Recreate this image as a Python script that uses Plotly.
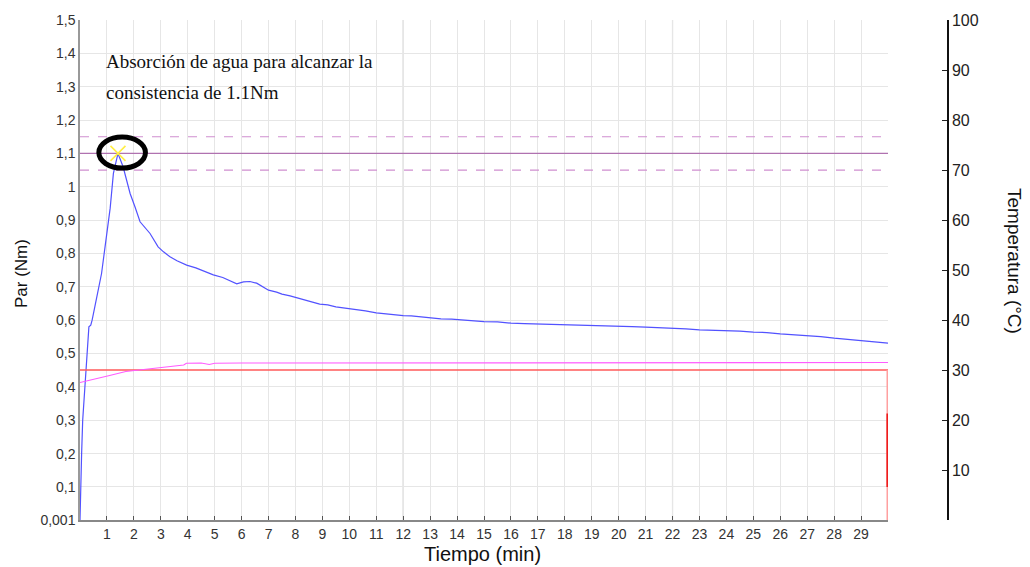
import plotly.graph_objects as go

# ---------------- data ----------------
t_par = [0, 0.02, 0.06, 0.10, 0.18, 0.22, 0.28, 0.33, 0.40, 0.45, 0.55, 0.80, 0.93, 1.12, 1.24, 1.41,
         1.60, 1.86, 2.04, 2.23, 2.60, 2.90, 3.10, 3.34, 3.60, 3.96, 4.30, 4.60, 4.95, 5.30, 5.60, 5.82,
         6.07, 6.31, 6.56, 6.80, 7.00, 7.30, 7.50, 7.80, 8.00, 8.30, 8.60, 8.90, 9.20, 9.50, 9.80, 10.0,
         10.3, 10.6, 11.0, 11.3, 11.6, 12.0, 12.3, 12.6, 13.0, 13.4, 13.8, 14.2, 14.6, 15.0, 15.5, 16.0,
         16.5, 17.0, 17.5, 18.0, 18.5, 19.0, 19.5, 20.0, 20.5, 21.0, 21.5, 22.0, 22.5, 23.0, 23.5, 24.0,
         24.5, 25.0, 25.5, 26.0, 26.5, 27.0, 27.5, 28.0, 28.3, 28.6, 29.0, 29.5, 30.0]
par_nm = [0.001, 0.10, 0.20, 0.30, 0.40, 0.46, 0.55, 0.58, 0.585, 0.60, 0.64, 0.74, 0.82, 0.936, 1.04, 1.10,
          1.06, 0.98, 0.94, 0.895, 0.86, 0.82, 0.805, 0.79, 0.778, 0.765, 0.757, 0.748, 0.736, 0.728, 0.718, 0.709,
          0.715, 0.716, 0.711, 0.70, 0.69, 0.684, 0.678, 0.673, 0.668, 0.661, 0.655, 0.648, 0.646, 0.640, 0.637, 0.634,
          0.630, 0.628, 0.622, 0.619, 0.617, 0.614, 0.613, 0.610, 0.608, 0.604, 0.603, 0.600, 0.599, 0.596, 0.595, 0.591,
          0.590, 0.589, 0.589, 0.587, 0.587, 0.585, 0.583, 0.582, 0.581, 0.579, 0.578, 0.575, 0.574, 0.571, 0.570, 0.567,
          0.567, 0.564, 0.563, 0.559, 0.557, 0.553, 0.551, 0.546, 0.545, 0.542, 0.539, 0.535, 0.531]

t_temp = [0, 0.5, 1.1, 1.7, 2.3, 3.0, 3.5, 3.85, 3.95, 4.5, 4.8, 5.0, 6.0, 7.0, 8.0, 9.0, 10.0, 11.0,
          12.0, 13.0, 14.0, 15.0, 16.0, 17.0, 18.0, 19.0, 20.0, 21.0, 22.0, 23.0, 24.0, 25.0, 26.0, 27.0,
          28.0, 29.0, 30.0]
temp_c = [27.5, 28.2, 28.9, 29.7, 30.1, 30.5, 30.8, 31.0, 31.35, 31.4, 31.1, 31.35, 31.4, 31.4, 31.45, 31.5, 31.55, 31.5,
          31.55, 31.55, 31.5, 31.55, 31.5, 31.55, 31.5, 31.55, 31.5, 31.55, 31.5, 31.55, 31.5, 31.55, 31.5, 31.5,
          31.45, 31.5, 31.5]

t_set = [0, 30]
temp_set = [30, 30]
t_set_drop = [30, 30]
temp_set_drop = [30, 0]
temp_set_dark = [21.3, 6.6]

target_par = [1.10]
tolerance_par = [1.05, 1.15]
peak_t = [1.41]
peak_par = [1.10]
highlight_t = [0.70, 2.43]
highlight_par = [1.056, 1.149]
major_grid_t = [12, 22]

x_ticks = list(range(1, 31))
x_ticktext = [str(v) for v in range(1, 30)] + [""]
y_ticks = [0.001] + [round(0.1 * i, 1) for i in range(1, 16)]
y_ticktext = ["0,001", "0,1", "0,2", "0,3", "0,4", "0,5", "0,6", "0,7", "0,8", "0,9", "1",
              "1,1", "1,2", "1,3", "1,4", "1,5"]
y2_ticks = list(range(10, 101, 10))

# ---------------- figure ----------------
fig = go.Figure()

for v in tolerance_par:
    fig.add_trace(go.Scatter(x=[0, 30], y=[v, v], mode="lines",
                             line=dict(color="#d08fd0", width=1.2, dash="dash"), hoverinfo="skip"))
for v in target_par:
    fig.add_trace(go.Scatter(x=[0, 30], y=[v, v], mode="lines",
                             line=dict(color="#b072b0", width=1.3), hoverinfo="skip"))

fig.add_trace(go.Scatter(x=t_set, y=temp_set, mode="lines", yaxis="y2",
                         line=dict(color="#ff5a5a", width=1.5)))
fig.add_trace(go.Scatter(x=t_set_drop, y=temp_set_drop, mode="lines", yaxis="y2",
                         line=dict(color="#ffa0a0", width=3)))
fig.add_trace(go.Scatter(x=t_set_drop, y=temp_set_dark, mode="lines", yaxis="y2",
                         line=dict(color="#ee1c1c", width=3.2)))
fig.add_trace(go.Scatter(x=t_temp, y=temp_c, mode="lines", yaxis="y2",
                         line=dict(color="#ff5cff", width=1.2)))
fig.add_trace(go.Scatter(x=t_par, y=par_nm, mode="lines",
                         line=dict(color="#5252ff", width=1.2)))
fig.add_trace(go.Scatter(x=peak_t, y=peak_par, mode="markers",
                         marker=dict(symbol="x-thin", size=15, line=dict(color="#ffee44", width=1.6))))

shapes = []
for v in major_grid_t:
    shapes.append(dict(type="line", xref="x", yref="paper", x0=v, x1=v, y0=0, y1=1,
                       line=dict(color="#cccccc", width=1.2), layer="below"))
shapes.append(dict(type="circle", xref="x", yref="y",
                   x0=highlight_t[0], x1=highlight_t[1], y0=highlight_par[0], y1=highlight_par[1],
                   line=dict(color="black", width=5)))

sans = "Liberation Sans, Arial, sans-serif"
serif = "Liberation Serif, Times New Roman, serif"
tick_font = dict(family=sans, size=14, color="#333333")

fig.update_layout(
    width=1030, height=567,
    margin=dict(l=80, r=82, t=20, b=47),
    paper_bgcolor="white", plot_bgcolor="white",
    showlegend=False,
    shapes=shapes,
    xaxis=dict(domain=[0, (888 - 80) / (948 - 80)], range=[0, 30], automargin=False,
               tickvals=x_ticks, ticktext=x_ticktext, tickfont=tick_font,
               ticks="inside", ticklen=4, tickcolor="#555555",
               showgrid=True, gridcolor="#e6e6e6", gridwidth=1,
               showline=True, linecolor="#888888", linewidth=1.5, zeroline=False),
    yaxis=dict(range=[0.001, 1.5], tickvals=y_ticks, ticktext=y_ticktext, tickfont=tick_font,
               automargin=False,
               showgrid=True, gridcolor="#e6e6e6", gridwidth=1, ticks="",
               showline=True, linecolor="#999999", linewidth=1.5, zeroline=False),
    yaxis2=dict(range=[0, 100], overlaying="y", side="right", anchor="free", position=1,
                automargin=False,
                tickvals=y2_ticks, tickfont=dict(family=sans, size=16, color="#222222"),
                ticks="inside", ticklen=5, tickcolor="#222222",
                showgrid=False, showline=True, linecolor="#111111", linewidth=1.5, zeroline=False),
    annotations=[
        dict(text="Par (Nm)", xref="paper", yref="paper", x=(21 - 80) / 868, y=(520 - 274) / 500,
             textangle=-90, xanchor="center", yanchor="middle",
             showarrow=False, font=dict(family=sans, size=17, color="#111111")),
        dict(text="Temperatura (°C)", xref="paper", yref="paper", x=(1015 - 80) / 868, y=(520 - 261) / 500,
             textangle=90, xanchor="center", yanchor="middle",
             showarrow=False, font=dict(family=sans, size=19, color="#111111")),
        dict(text="Tiempo (min)", xref="paper", yref="paper", x=(482 - 80) / 868, y=-34 / 500,
             xanchor="center", yanchor="middle", showarrow=False,
             font=dict(family=sans, size=20, color="#111111")),
        dict(text="Absorción de agua para alcanzar la", xref="paper", yref="paper",
             x=(104 - 80) / 868, y=(520 - 62) / 500, xanchor="left", yanchor="middle", showarrow=False,
             font=dict(family=serif, size=19, color="#111111")),
        dict(text="consistencia de 1.1Nm", xref="paper", yref="paper",
             x=(104 - 80) / 868, y=(520 - 92) / 500, xanchor="left", yanchor="middle", showarrow=False,
             font=dict(family=serif, size=19, color="#111111")),
    ],
)

fig.write_html("out.html")
